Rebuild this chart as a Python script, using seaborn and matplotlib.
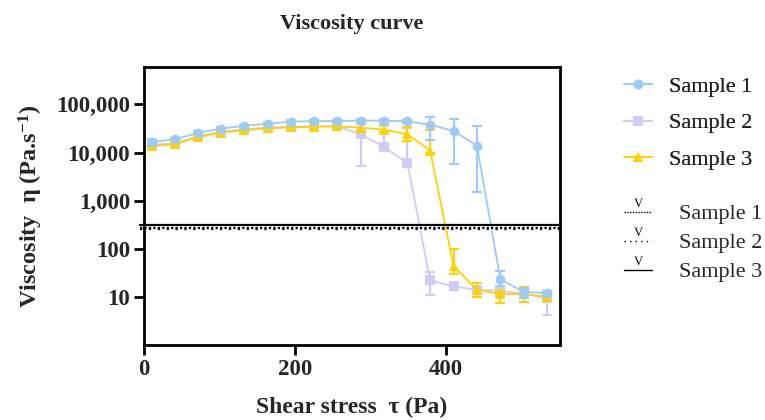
import numpy as np
import pandas as pd
import matplotlib
matplotlib.use("Agg")
import matplotlib.pyplot as plt
import seaborn as sns
from matplotlib.ticker import FixedLocator, FuncFormatter, NullLocator
from matplotlib.lines import Line2D
from matplotlib.textpath import TextPath
from matplotlib.font_manager import FontProperties
from matplotlib.path import Path

# shear stress (Pa)
shear_stress = [10, 41, 72, 102, 133, 164, 195, 225, 256, 287,
                318, 349, 379, 410, 441, 472, 503, 534]

# viscosity, with lower / upper ends of the error bars
sample1 = [16600, 18800, 25800, 31400, 36000, 40000, 44000, 45000, 45500, 46000,
           46000, 44500, 38000, 28000, 14000, 23, 12.7, 12]
sample1_lo = [14000, 17500, 24000, 29500, 34000, 38000, 42000, 43000, 43000, 43500,
              43000, 41000, 18600, 5700, 1500, 16.6, 9.3, 10.5]
sample1_hi = [19500, 20500, 27500, 33500, 38000, 42000, 46500, 47500, 48500, 49000,
              49500, 48500, 56000, 50500, 36000, 34, 15.5, 13.5]

sample2 = [14600, 15500, 22000, 27000, 30500, 33000, 34000, 35000, 35000, 24000,
           13000, 6000, 22, 16.6, 14, 13.5, 11.7, 9.3]
sample2_lo = [13500, 14800, 21000, 26000, 29500, 32000, 33000, 34000, 34000, 5200,
              12000, 5500, 11, 15.5, 12.5, 10.5, 10.5, 4.2]
sample2_hi = [15800, 16200, 23000, 28000, 31500, 34000, 35000, 36000, 36000, 40000,
              36000, 33000, 33, 17.8, 15.5, 16, 13, 11.5]

sample3 = [13600, 15000, 21000, 26000, 29000, 32000, 33500, 34500, 35000, 33000,
           30000, 24000, 11000, 44, 14, 11.5, 11.5, 10]
sample3_lo = [12800, 14300, 20000, 25000, 28000, 31000, 32500, 33500, 34000, 27000,
              26700, 17000, 10000, 30, 10, 7.6, 8, 8.5]
sample3_hi = [14400, 15700, 22000, 27000, 30000, 33000, 34500, 35500, 36000, 40000,
              36600, 34000, 29000, 100, 19, 13, 16, 11.5]

series_names = ["Sample 1", "Sample 2", "Sample 3"]
series_colors = ["#9DCBF8", "#CFCCF6", "#FFD200"]
series_markers = ["o", "s", "^"]

# horizontal reference lines (second legend)
ref_levels = [270, 258, 305]
ref_styles = [(0, (1, 1)), (0, (1, 3)), "-"]

y_ticks = [10, 100, 1000, 10000, 100000]
x_ticks = [0, 200, 400]

sns.set_theme(style="ticks")
plt.rcParams["font.family"] = ["Liberation Serif", "DejaVu Serif"]
plt.rcParams["mathtext.fontset"] = "custom"
plt.rcParams["mathtext.rm"] = "Liberation Serif:bold"
plt.rcParams["mathtext.bf"] = "Liberation Serif:bold"
plt.rcParams["mathtext.default"] = "bf"

fig = plt.figure(figsize=(7.65, 4.2), dpi=100)
ax = fig.add_axes([144 / 765, 1 - 345 / 420, (560 - 144) / 765, (345 - 67) / 420])

df = pd.DataFrame({
    "x": shear_stress * 3,
    "y": sample1 + sample2 + sample3,
    "lo": sample1_lo + sample2_lo + sample3_lo,
    "hi": sample1_hi + sample2_hi + sample3_hi,
    "sample": np.repeat(series_names, len(shear_stress)),
})

zorders = [5, 3, 4]
for name, color, marker, z in zip(series_names, series_colors, series_markers, zorders):
    d = df[df["sample"] == name]
    ax.errorbar(d["x"], d["y"], yerr=[d["y"] - d["lo"], d["hi"] - d["y"]],
                fmt="none", ecolor=color, elinewidth=1.5, capsize=3.5,
                capthick=1.5, zorder=z)
    sns.lineplot(data=d, x="x", y="y", ax=ax, color=color, marker=marker,
                 markersize=7, markeredgewidth=0, linewidth=1.3,
                 label=name, zorder=z + 0.5, legend=False)

for lvl, ls in zip(ref_levels, ref_styles):
    ax.axhline(lvl, xmin=-0.01, xmax=1, color="black", linestyle=ls,
               linewidth=1.6, clip_on=False, zorder=6)

ax.set_yscale("log")
ax.set_ylim(1, 6e5)
ax.set_xlim(0, 551)
ax.yaxis.set_major_locator(FixedLocator(y_ticks))
ax.yaxis.set_minor_locator(NullLocator())
ax.yaxis.set_major_formatter(FuncFormatter(lambda v, p: f"{v:,.0f}"))
ax.xaxis.set_major_locator(FixedLocator(x_ticks))

for s in ax.spines.values():
    s.set_linewidth(2)
    s.set_color("black")
ax.tick_params(axis="both", which="major", direction="out", length=7, width=2,
               color="black", labelsize=16.5, pad=3)
for lab in ax.get_xticklabels() + ax.get_yticklabels():
    lab.set_fontweight("bold")

ax.set_xlabel("Shear stress  τ (Pa)", fontsize=17, fontweight="bold", labelpad=12)
ax.set_ylabel("Viscosity  η (Pa.s$^{-1}$)", fontsize=17.5, fontweight="bold", labelpad=8)
ax.set_title("Viscosity curve", fontsize=16, fontweight="bold", pad=27)

# first legend: the data series
handles1 = [Line2D([0], [0], color=c, marker=m, markersize=7, markeredgewidth=0,
                   linewidth=1.3) for c, m in zip(series_colors, series_markers)]
leg1 = fig.legend(handles1, series_names, loc="center left",
                  bbox_to_anchor=(613 / 765, 1 - 123 / 420), frameon=False,
                  fontsize=16, borderpad=0, handlelength=1.25, handletextpad=0.75,
                  labelspacing=0.72)

# second legend: reference lines, with a small "V" above each
tp = TextPath((0, 0), "V", size=1, prop=FontProperties(family="Liberation Serif"))
verts = tp.vertices.copy()
verts[:, 0] -= (verts[:, 0].min() + verts[:, 0].max()) / 2
verts[:, 1] += 0.45
v_marker = Path(verts, tp.codes)

handles2 = [Line2D([0], [0], color="black", linestyle=ls, linewidth=1,
                   marker=v_marker, markersize=20, markerfacecolor="black",
                   markeredgewidth=0) for ls in ref_styles]
fig.legend(handles2, series_names, loc="center left",
           bbox_to_anchor=(613 / 765, 1 - 243 / 420), frameon=False,
           fontsize=16, borderpad=0, handlelength=1.25, handletextpad=1.2,
           labelspacing=0.38)
fig.add_artist(leg1)

fig.savefig("out.png", dpi=100)
